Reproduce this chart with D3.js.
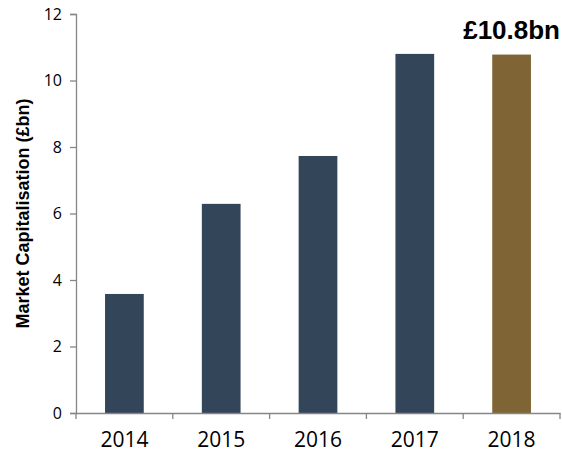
<!DOCTYPE html>
<html><head><meta charset="utf-8">
<script src="https://cdn.jsdelivr.net/npm/d3@7"></script>
<style>body{margin:0;background:#fff}svg{display:block}
.arial{font-family: Arial, "Liberation Sans", Helvetica, sans-serif; font-weight:700;}
.os{font-family: "Open Sans", sans-serif;}
</style>
</head><body>
<svg id="c" width="562" height="454"></svg>
<script>
const years = ["2014","2015","2016","2017","2018"];
const marketCap = [3.58, 6.29, 7.73, 10.8, 10.78];
const barColors = ["#334559","#334559","#334559","#334559","#7F6535"];
const yTicks = [0,2,4,6,8,10,12];
const highlightLabel = "£10.8bn";

const svg = d3.select("#c");
const x = d3.scaleBand().domain(years).range([76,560]).paddingInner(0.6).paddingOuter(0.3);
const y = d3.scaleLinear().domain([0,12]).range([413,14]);
const axisColor = "#868686";

svg.selectAll("rect.bar").data(years).join("rect")
  .attr("class","bar")
  .attr("x", d => x(d))
  .attr("width", x.bandwidth())
  .attr("y", (d,i) => y(marketCap[i]))
  .attr("height", (d,i) => y(0) - y(marketCap[i]))
  .attr("fill", (d,i) => barColors[i]);

// y axis
const ya = svg.append("g").attr("transform","translate(76,0)")
  .call(d3.axisLeft(y).tickValues(yTicks).tickSize(6).tickPadding(8).tickFormat(d3.format("d")));
ya.attr("font-family",null).attr("font-size",null);
ya.select(".domain").attr("stroke",axisColor).attr("stroke-width",1.3);
ya.selectAll(".tick line").attr("stroke",axisColor).attr("stroke-width",1.3);
ya.selectAll(".tick text").attr("class","os").style("font-size","16px").attr("fill","#000");

// x axis
const xa = svg.append("g").attr("transform",`translate(0,${y(0)})`)
  .call(d3.axisBottom(x).tickSize(0).tickPadding(19));
xa.attr("font-family",null).attr("font-size",null);
xa.select(".domain").attr("stroke",axisColor).attr("stroke-width",1.3);
xa.selectAll(".tick text").attr("class","os").style("font-size","21px").attr("fill","#000");
// boundary ticks between categories
const step = x.step();
const gap = step - x.bandwidth();
const boundaryX = years.map(d => x(d) - gap/2).concat([x(years[years.length-1]) + x.bandwidth() + gap/2]);
svg.append("g").selectAll("line").data(boundaryX).join("line")
  .attr("x1",d=>d).attr("x2",d=>d).attr("y1",y(0)).attr("y2",y(0)+6)
  .attr("stroke",axisColor).attr("stroke-width",1.3);

// y axis title
svg.append("text")
  .attr("class","arial")
  .attr("transform",`translate(29,${(y(0)+y(12))/2}) rotate(-90)`)
  .attr("text-anchor","middle")
  .style("font-size","18px")
  .text("Market Capitalisation (£bn)");

// highlight label
svg.append("text")
  .attr("class","arial")
  .attr("x", x("2018") + x.bandwidth()/2)
  .attr("y", 39)
  .attr("text-anchor","middle")
  .style("font-size","26px")
  .text(highlightLabel);
</script>
</body></html>
